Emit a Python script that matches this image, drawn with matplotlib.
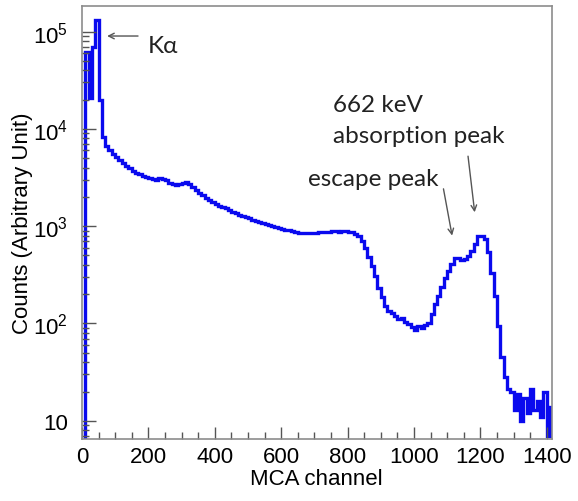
import numpy as np
import matplotlib.pyplot as plt
from matplotlib.ticker import LogLocator, MultipleLocator, FixedLocator, NullFormatter

plt.rcParams["font.family"] = ["Liberation Sans", "DejaVu Sans"]
plt.rcParams["mathtext.fontset"] = "custom"
plt.rcParams["mathtext.rm"] = "Liberation Sans"
plt.rcParams["mathtext.default"] = "rm"

# MCA spectrum, counts per 10-channel bin starting at channel 0
bin_width = 10
counts = [
    2, 61000, 21000, 70000, 132000, 20000, 8200, 6600, 6000, 5500,         # 0-99
    5100, 4800, 4500, 4200, 3950, 3700, 3550, 3400, 3300, 3200,             # 100-199
    3100, 3050, 3000, 3100, 3050, 2950, 2800, 2700, 2680, 2720,             # 200-299
    2800, 2820, 2700, 2500, 2350, 2200, 2070, 1970, 1870, 1770,             # 300-399
    1700, 1630, 1570, 1520, 1450, 1390, 1350, 1310, 1270, 1230,             # 400-499
    1200, 1170, 1140, 1110, 1080, 1060, 1030, 1010, 985, 960,               # 500-599
    940, 920, 905, 890, 875, 860, 850, 845, 855, 850,                       # 600-699
    860, 865, 868, 875, 870, 885, 890, 880, 895, 890,                       # 700-799
    880, 870, 840, 790, 700, 590, 480, 390, 310, 230,                       # 800-899
    185, 150, 135, 128, 120, 112, 115, 103, 98, 92,                         # 900-999
    86, 95, 90, 96, 100, 125, 160, 190, 235, 290,                           # 1000-1099
    345, 410, 470, 475, 445, 460, 490, 560, 660, 790,                       # 1100-1199
    800, 730, 540, 330, 190, 95, 45, 28, 21, 20,                            # 1200-1299
    13, 19, 10, 17, 12, 21, 13, 16, 11, 20,                                 # 1300-1399
    7, 14,                                                                  # 1400-1419
]
edges = np.arange(len(counts) + 1) * bin_width

fig = plt.figure(figsize=(5.78, 5.02), dpi=100)
ax = fig.add_axes([0.1417, 0.1235, 0.8128, 0.8625])

ax.stairs(counts, edges, color="#0a0aee", lw=2.4, baseline=None)

ax.set_yscale("log")
ax.set_xlim(0, 1415)
ax.set_ylim(6.5, 1.83e5)

ax.xaxis.set_major_locator(MultipleLocator(200))
ax.xaxis.set_minor_locator(MultipleLocator(50))
ax.yaxis.set_major_locator(FixedLocator([10, 1e2, 1e3, 1e4, 1e5]))
ax.yaxis.set_minor_locator(LogLocator(base=10, subs=np.arange(2, 10)))
ax.yaxis.set_minor_formatter(NullFormatter())
ax.set_yticklabels(["10", r"$10^{2}$", r"$10^{3}$", r"$10^{4}$", r"$10^{5}$"])

ax.tick_params(axis="both", which="both", direction="in", color="#555555",
               labelsize=16, width=1.0)
ax.tick_params(axis="x", which="major", length=8.6, pad=5)
ax.tick_params(axis="x", which="minor", length=4.7)
ax.tick_params(axis="y", which="major", length=10, pad=10)
ax.tick_params(axis="y", which="minor", length=5)
for s in ax.spines.values():
    s.set_color("#8c8c8c")
    s.set_linewidth(1.2)

ax.set_xlabel("MCA channel", fontsize=16, labelpad=1)
ax.set_ylabel("Counts (Arbitrary Unit)", fontsize=16)
ax.yaxis.set_label_coords(-0.104, 0.5)

# annotations
note = dict(family=["Lato", "DejaVu Sans"], fontsize=17.5, color="#222222", va="baseline")
arrow = dict(arrowstyle="->", color="#555555", lw=1.0, shrinkA=0, shrinkB=0)
ax.annotate("", xy=(76, 9.0e4), xytext=(169, 9.0e4), arrowprops=arrow)
ax.text(199, 6.1e4, "K\u03b1", **note)
ax.text(756, 1.54e4, "662 keV", **note)
ax.text(756, 7.3e3, "absorption peak", **note)
ax.text(682, 2.65e3, "escape peak", **note)
ax.annotate("", xy=(1115, 800), xytext=(1089, 2.42e3), arrowprops=arrow)
ax.annotate("", xy=(1183, 1.39e3), xytext=(1163, 5.24e3), arrowprops=arrow)

fig.savefig("out.png", dpi=100)
